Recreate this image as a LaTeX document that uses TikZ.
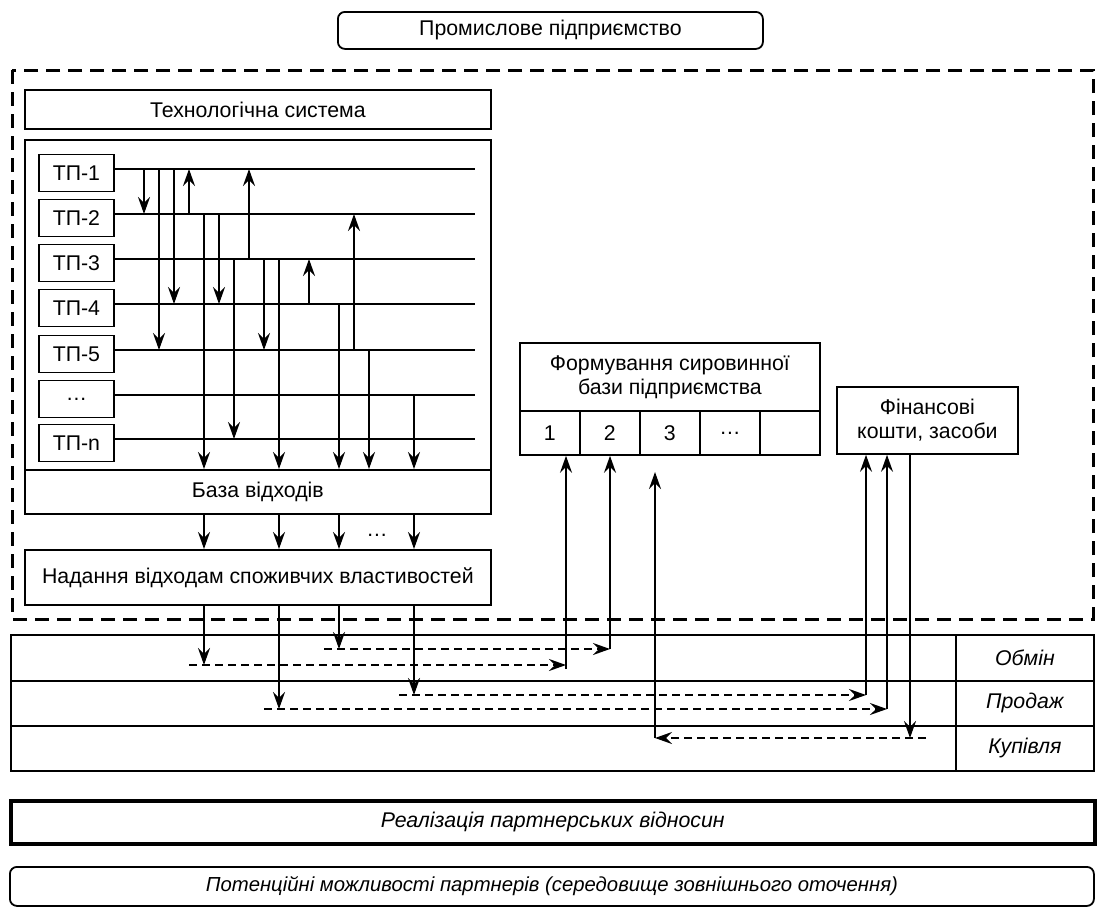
\documentclass[tikz,border=0pt]{standalone}
\usepackage{fontspec}
\setmainfont{Liberation Sans}
\usetikzlibrary{arrows.meta,calc}
\begin{document}
\begin{tikzpicture}[x=1pt,y=-1pt,
  every node/.style={font=\fontsize{21.3}{24}\selectfont},
  box/.style={draw,line width=1.8pt,inner sep=0pt,anchor=north west,align=center},
  tip/.style={-{Stealth[length=17pt,width=12pt,inset=6pt]}},
  arr/.style={line width=1.8pt,tip},
  ln/.style={line width=1.8pt},
  darr/.style={line width=1.7pt,dash pattern=on 8pt off 5pt,tip},
  outer/.style={line width=3pt,dash pattern=on 14pt off 8pt},
  lab/.style={box,font=\fontsize{21.3}{24}\selectfont\itshape}
]
\useasboundingbox (0,0) rectangle (1100,916);

% top
\node[box,rounded corners=7pt,minimum width=425pt,minimum height=37pt] (top) at (337,11) {Промислове підприємство};

% enterprise dashed frame
\draw[outer] (12,70) rectangle (1093,619);

% technological system
\node[box,minimum width=466pt,minimum height=39pt] (tech) at (24,89) {Технологічна система};
\node[box,minimum width=466pt,minimum height=330pt] (sys) at (24,139) {};
\node[box,minimum width=466pt,minimum height=44pt] (base) at (24,469) {База відходів};
\node[box,minimum width=466pt,minimum height=55pt] (nad) at (24,549) {Надання відходам споживчих властивостей};

% processes
\foreach \i/\t/\y in {1/ТП-1/169,2/ТП-2/214,3/ТП-3/259,4/ТП-4/304,5/ТП-5/350,6/…/395,7/ТП-n/439}{
  \node[box,anchor=west,minimum width=75pt,minimum height=37pt] (tp\i) at (38,\y+4) {\t};
  \coordinate (e\i) at (475,\y);
  \draw[ln] (tp\i.east |- e\i) -- (e\i);
}

% links between processes
\foreach \x/\a/\b in {144/e1/e2,159/e1/e5,174/e1/e4,189/e2/e1,219/e2/e4,234/e3/e7,249/e3/e1,264/e3/e5,309/e4/e3,354/e5/e2}
  \draw[arr] (\x,0 |- \a) -- (\x,0 |- \b);
\foreach \x/\a in {204/e2,279/e3,339/e4,369/e5,414/e6}
  \draw[arr] (\x,0 |- \a) -- (\x,0 |- base.north);

% base -> nad
\foreach \x in {204,279,339,414}
  \draw[arr] (\x,0 |- base.south) -- (\x,0 |- nad.north);
\node (dots) at (377,535) {…};

% raw material base
\node[box,minimum width=300pt,minimum height=68pt] (form) at (519,342) {Формування сировинної\\бази підприємства};
\foreach \i/\t in {1/1,2/2,3/3,4/…,5/{}}
  \node[box,minimum width=60pt,minimum height=44pt] (c\i) at ({519+60*(\i-1)},410) {\t};

% finance
\node[box,minimum width=181pt,minimum height=67pt] (fin) at (836,386) {Фінансові\\кошти, засоби};

% table
\node[box,minimum width=945pt,minimum height=46pt] (r1) at (10,634) {};
\node[box,minimum width=945pt,minimum height=45pt] (r2) at (10,680) {};
\node[box,minimum width=945pt,minimum height=45pt] (r3) at (10,725) {};
\node[lab,minimum width=138pt,minimum height=46pt] (l1) at (955,634) {Обмін};
\node[lab,minimum width=138pt,minimum height=45pt] (l2) at (955,680) {Продаж};
\node[lab,minimum width=138pt,minimum height=45pt] (l3) at (955,725) {Купівля};

% bottom boxes
\node[lab,line width=3.5pt,minimum width=1084pt,minimum height=43pt] (real) at (9,799) {Реалізація партнерських відносин};
\node[lab,font=\fontsize{20.3}{23}\selectfont\itshape,rounded corners=7pt,minimum width=1084pt,minimum height=39pt] (pot) at (9,866) {Потенційні можливості партнерів (середовище зовнішнього оточення)};

% exchange flows
\coordinate (a1) at (339,649); \coordinate (s1) at (324,649); \coordinate (t1) at (610,649);
\coordinate (a2) at (204,665); \coordinate (s2) at (189,665); \coordinate (t2) at (566,665);
\coordinate (a3) at (414,695); \coordinate (s3) at (399,695); \coordinate (t3) at (866,695);
\coordinate (a4) at (279,709); \coordinate (s4) at (264,709); \coordinate (t4) at (887,709);
\draw[arr] (a1 |- nad.south) -- (a1);
\draw[darr] (s1) -- (t1);
\draw[arr] (t1) -- (t1 |- c2.south);
\draw[arr] (a2 |- nad.south) -- (a2);
\draw[darr] (s2) -- (t2);
\draw[arr] (t2) ++(0,4) -- (t2 |- c1.south);
\draw[arr] (a3 |- nad.south) -- (a3);
\draw[darr] (s3) -- (t3);
\draw[arr] (t3) -- (t3 |- fin.south);
\draw[arr] (a4 |- nad.south) -- (a4);
\draw[darr] (s4) -- (t4);
\draw[arr] (t4) -- (t4 |- fin.south);

% purchase flow
\coordinate (b1) at (910,738); \coordinate (bs) at (926,738); \coordinate (bt) at (655,738);
\coordinate (bu) at (655,472);
\draw[arr] (b1 |- fin.south) -- (b1);
\draw[darr] (bs) -- (bt);
\draw[arr] (bt) -- (bu);
\end{tikzpicture}
\end{document}
